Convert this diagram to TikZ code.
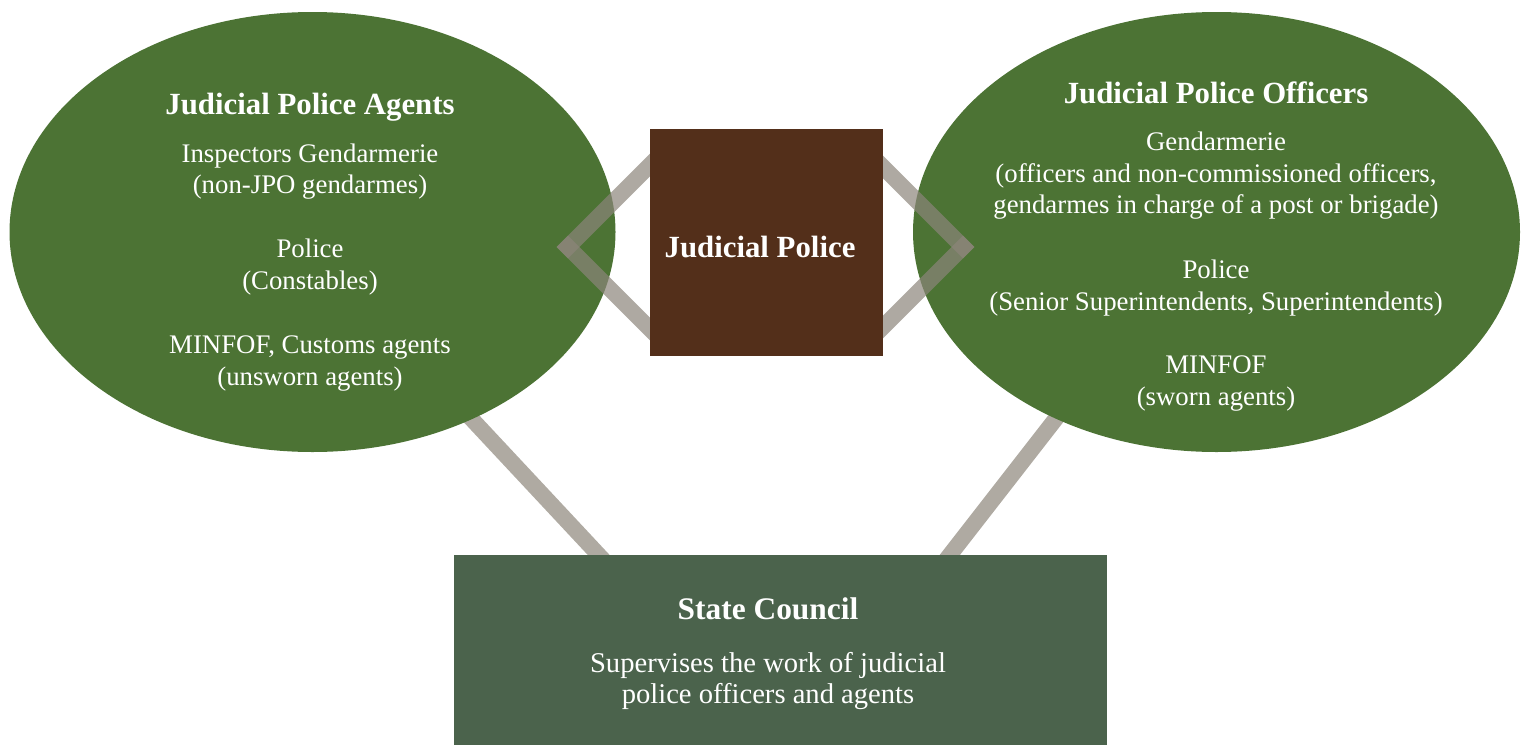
\documentclass[tikz,border=0pt]{standalone}
\usepackage{fontspec}
\setmainfont{Liberation Serif}
\usetikzlibrary{shapes.geometric}
\definecolor{ellgreen}{HTML}{4C7334}
\definecolor{jpbrown}{HTML}{532F1A}
\definecolor{scgreen}{HTML}{4B634C}
\definecolor{linkgray}{HTML}{8C857A}
\tikzset{
  ellbox/.style={ellipse, fill=ellgreen, draw=none, inner sep=0pt, outer sep=0pt},
  link/.style={draw=linkgray, line width=8pt, opacity=0.7, line cap=rect},
  title/.style={anchor=base, text=white, inner sep=0pt, font=\fontsize{15.4}{18}\selectfont\bfseries},
  body/.style={anchor=base, text=white, inner sep=0pt, font=\fontsize{13.4}{15.5}\selectfont},
  scbody/.style={body, font=\fontsize{14.3}{16.5}\selectfont},
}
\begin{document}
\begin{tikzpicture}[x=0.5pt,y=-0.5pt]
\useasboundingbox (0,0) rectangle (1525,744);
% named end points of connectors
\coordinate (pL) at (297,232);
\coordinate (qL) at (609,566);
\coordinate (pR) at (1201,232);
\coordinate (qR) at (942,565);
\coordinate (apL) at (568,247);
\coordinate (aL1) at (662,153);
\coordinate (aL2) at (662,341);
\coordinate (apR) at (963,247);
\coordinate (aR1) at (871,155);
\coordinate (aR2) at (871,339);
% lower connectors (behind everything)
\draw[link, opacity=1, draw=linkgray!70] (pL) -- (qL);
\draw[link, opacity=1, draw=linkgray!70] (pR) -- (qR);
% ellipses
\node[ellbox, minimum width=303pt, minimum height=220pt] (ellL) at (312.5,232) {};
\node[ellbox, minimum width=303.5pt, minimum height=220pt] (ellR) at (1216.5,232) {};
% chevrons (semi-transparent, over ellipses)
\draw[link] (aL1) -- (apL);
\draw[link] (aL2) -- (apL);
\draw[link] (aR1) -- (apR);
\draw[link] (aR2) -- (apR);
% central box
\node[fill=jpbrown, draw=none, inner sep=0pt, outer sep=0pt, minimum width=116.5pt, minimum height=113.5pt] (jp) at (766.5,242.5) {};
\node[title] (jpt) at (760,257) {Judicial Police};
% state council box
\node[fill=scgreen, draw=none, inner sep=0pt, outer sep=0pt, minimum width=326.5pt, minimum height=96pt] (sc) at (780.5,651) {};
\node[title, font=\fontsize{15.7}{18}\selectfont\bfseries] (sct) at (768,619) {State Council};
\node[scbody] (sc1) at (768,672) {Supervises the work of judicial};
\node[scbody] (sc2) at (768,703) {police officers and agents};
% left ellipse texts
\node[title] (lt) at (310,114) {Judicial Police Agents};
\node[body] (l1) at (310,162) {Inspectors Gendarmerie};
\node[body] (l2) at (310,193) {(non-JPO gendarmes)};
\node[body] (l3) at (310,257) {Police};
\node[body] (l4) at (310,289) {(Constables)};
\node[body] (l5) at (310,353) {MINFOF, Customs agents};
\node[body] (l6) at (310,385) {(unsworn agents)};
% right ellipse texts
\node[title] (rt) at (1216,103) {Judicial Police Officers};
\node[body] (r1) at (1216,150) {Gendarmerie};
\node[body] (r2) at (1216,182) {(officers and non-commissioned officers,};
\node[body] (r3) at (1216,213) {gendarmes in charge of a post or brigade)};
\node[body] (r4) at (1216,278) {Police};
\node[body] (r5) at (1216,310) {(Senior Superintendents, Superintendents)};
\node[body] (r6) at (1216,373) {MINFOF};
\node[body] (r7) at (1216,405) {(sworn agents)};
\end{tikzpicture}
\end{document}
